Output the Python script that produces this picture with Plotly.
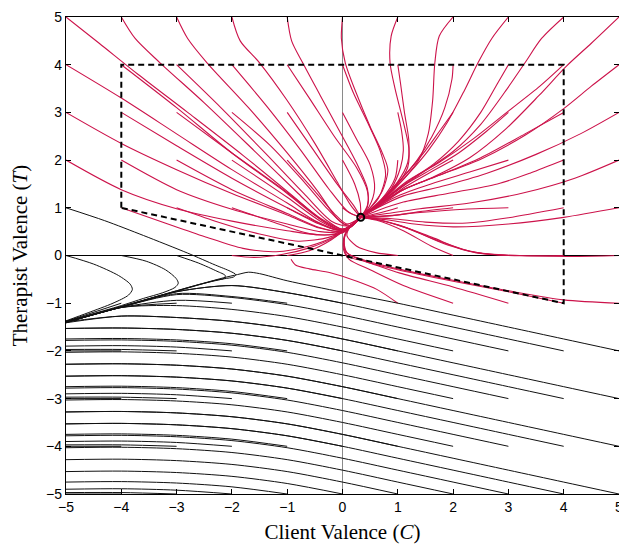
import plotly.graph_objects as go

# ---------------- data ----------------
F = (0.33, 0.80)          # stable fixed point (open circle)
fixed_point_x = [F[0]]
fixed_point_y = [F[1]]

# dashed region: box with the separatrix estimate as its lower edge
box_x = [-4, -4, 4, 4, 0, -4]
box_y = [1, 4, 4, -1, 0, 1]

tick_vals = [-5, -4, -3, -2, -1, 0, 1, 2, 3, 4, 5]

# red trajectories (flow to the fixed point), grouped by starting row T0
red_row_5 = [
    [(-5, 5), (-4.4, 4.45), (-3.7, 3.8), (-2.8, 3.0), (-1.8, 2.1), (-0.9, 1.25), (-0.35, 0.72), (0.0, 0.52), (0.15, 0.6), F],
    [(-4, 5), (-3.75, 4.55), (-3.3, 4.04), (-2.5, 3.2), (-1.6, 2.2), (-0.8, 1.3), (-0.3, 0.75), (0.0, 0.55), (0.15, 0.62), F],
    [(-3, 5), (-2.8, 4.55), (-2.45, 4.04), (-1.7, 3.1), (-1.0, 2.15), (-0.45, 1.35), (-0.1, 0.78), (0.1, 0.62), F],
    [(-2, 5), (-1.85, 4.5), (-1.5, 4.04), (-1.0, 3.25), (-0.5, 2.35), (-0.1, 1.55), (0.15, 1.05), F],
    [(-1, 5), (-0.92, 4.5), (-0.72, 4.04), (-0.4, 3.35), (-0.05, 2.6), (0.25, 1.95), (0.45, 1.4), (0.45, 1.05), F],
    [(0, 5), (-0.02, 4.55), (0.05, 4.04), (0.25, 3.4), (0.5, 2.7), (0.72, 2.15), (0.82, 1.8), (0.72, 1.35), (0.5, 1.0), F],
    [(1, 5), (0.88, 4.6), (0.86, 4.04), (0.95, 3.5), (1.1, 2.8), (1.2, 2.25), (1.18, 1.85), (1.0, 1.5), (0.65, 1.1), F],
    [(2, 5), (1.75, 4.6), (1.67, 4.04), (1.63, 3.25), (1.55, 2.55), (1.38, 2.0), (1.12, 1.62), (0.7, 1.13), F],
    [(3, 5), (2.7, 4.55), (2.45, 4.04), (2.2, 3.45), (1.9, 2.8), (1.55, 2.2), (1.2, 1.72), (0.75, 1.18), F],
    [(4, 5), (3.6, 4.55), (3.3, 4.04), (2.95, 3.45), (2.5, 2.75), (2.0, 2.18), (1.5, 1.78), (1.05, 1.42), (0.65, 1.08), F],
    [(5, 5), (4.5, 4.45), (4.05, 3.97), (3.55, 3.35), (2.95, 2.65), (2.3, 2.05), (1.65, 1.65), (1.05, 1.35), (0.62, 1.04), F],
]
red_row_4 = [
    [(-5, 4), (-4, 3.3), (-3, 2.55), (-2, 1.8), (-1, 1.1), (-0.45, 0.7), (0, 0.52), (0.15, 0.6), F],
    [(-4, 4), (-3, 3.1), (-2, 2.15), (-1, 1.3), (-0.45, 0.8), (-0.05, 0.55), (0.15, 0.62), F],
    [(-3, 4), (-2.2, 3.1), (-1.4, 2.15), (-0.7, 1.3), (-0.2, 0.72), (0.1, 0.62), F],
    [(-2, 4), (-1.35, 3.1), (-0.75, 2.2), (-0.25, 1.4), (0.1, 0.92), F],
    [(-1, 4), (-0.6, 3.3), (-0.15, 2.5), (0.25, 1.85), (0.45, 1.35), (0.45, 1.02), F],
    [(0, 4), (0.2, 3.4), (0.45, 2.8), (0.68, 2.2), (0.78, 1.7), (0.65, 1.2), F],
    [(1, 4), (1.05, 3.6), (1.12, 3.0), (1.2, 2.4), (1.18, 1.95), (1.0, 1.55), (0.65, 1.1), F],
    [(2, 4), (1.98, 3.7), (1.85, 3.1), (1.62, 2.5), (1.35, 2.0), (1.08, 1.62), (0.68, 1.12), F],
    [(3, 4), (2.8, 3.6), (2.5, 3.0), (2.1, 2.4), (1.65, 1.92), (1.15, 1.52), (0.68, 1.1), F],
    [(4, 4), (3.57, 3.55), (2.97, 3.0), (2.37, 2.45), (1.76, 1.96), (1.16, 1.55), (0.68, 1.1), F],
    [(5, 4), (4.5, 3.55), (4, 3.08), (3.3, 2.52), (2.5, 2.02), (1.7, 1.66), (1.1, 1.38), (0.65, 1.05), F],
]
red_row_3 = [
    [(-5, 3), (-4, 2.35), (-3, 1.8), (-2, 1.3), (-1, 0.85), (-0.4, 0.57), (0, 0.5), (0.15, 0.6), F],
    [(-4, 3), (-3, 2.3), (-2, 1.62), (-1, 1.0), (-0.4, 0.65), (0, 0.52), (0.15, 0.6), F],
    [(-3, 3), (-2, 2.15), (-1, 1.32), (-0.4, 0.78), (0, 0.55), (0.15, 0.62), F],
    [(-2, 3), (-1.3, 2.3), (-0.7, 1.55), (-0.25, 0.95), (0.05, 0.65), F],
    [(-1, 3), (-0.55, 2.25), (-0.1, 1.5), (0.2, 1.05), F],
    [(0, 3), (0.25, 2.45), (0.5, 1.9), (0.58, 1.4), (0.48, 1.02), F],
    [(1, 3), (1.07, 2.6), (1.1, 2.2), (1.05, 1.85), (0.88, 1.4), (0.6, 1.05), F],
    [(2, 3), (1.75, 2.6), (1.5, 2.2), (1.2, 1.78), (0.85, 1.35), (0.55, 1.0), F],
    [(3, 3), (2.6, 2.6), (2.1, 2.15), (1.6, 1.8), (1.15, 1.5), (0.7, 1.1), F],
    [(4, 3), (3.3, 2.55), (2.5, 2.05), (1.75, 1.68), (1.1, 1.38), (0.65, 1.02), F],
    [(5, 3), (4.3, 2.55), (3.5, 2.12), (2.6, 1.72), (1.8, 1.45), (1.1, 1.25), (0.6, 0.98), F],
]
red_row_2 = [
    [(-5, 2), (-4, 1.38), (-3, 0.98), (-2, 0.72), (-1, 0.52), (-0.4, 0.43), (0, 0.47), (0.15, 0.6), F],
    [(-4, 2), (-3, 1.38), (-2, 0.97), (-1, 0.66), (-0.4, 0.5), (0, 0.49), (0.15, 0.6), F],
    [(-3, 2), (-2, 1.38), (-1, 0.88), (-0.4, 0.58), (0, 0.5), (0.15, 0.6), F],
    [(-2, 2), (-1, 1.22), (-0.4, 0.72), (0, 0.53), (0.15, 0.62), F],
    [(-1, 2), (-0.5, 1.35), (-0.15, 0.88), (0.08, 0.66), F],
    [(0, 2), (0.22, 1.5), (0.32, 1.1), F],
    [(1, 2), (0.95, 1.62), (0.72, 1.2), F],
    [(2, 2), (1.6, 1.75), (1.15, 1.45), (0.72, 1.1), F],
    [(3, 2), (2.3, 1.75), (1.6, 1.5), (1.0, 1.25), (0.6, 1.0), F],
    [(4, 2), (3.4, 1.73), (2.8, 1.5), (1.9, 1.3), (1.1, 1.12), (0.65, 0.95), F],
    [(5, 2), (4.2, 1.62), (3.3, 1.32), (2.3, 1.1), (1.4, 0.98), (0.8, 0.88), F],
]
red_row_1 = [
    [(-4, 1), (-3.3, 0.72), (-2.5, 0.4), (-1.8, 0.15), (-1.2, 0.08), (-0.6, 0.2), (-0.15, 0.4), (0.1, 0.6), F],
    [(-3, 1), (-2.3, 0.72), (-1.5, 0.45), (-0.8, 0.3), (-0.25, 0.38), (0.05, 0.53), F],
    [(-2, 1), (-1.3, 0.72), (-0.6, 0.46), (-0.15, 0.45), (0.1, 0.58), F],
    [(-1, 1), (-0.5, 0.72), (-0.1, 0.53), (0.12, 0.6), F],
    [(0, 1), (0.15, 0.88), F],
    [(1, 1), (0.7, 0.9), F],
    [(2, 1), (1.4, 0.92), (0.85, 0.83), F],
    [(3, 1), (2.2, 0.97), (1.4, 0.9), (0.8, 0.83), F],
    [(4, 1), (3.0, 0.79), (2.25, 0.68), (1.5, 0.7), (0.9, 0.77), F],
    [(5, 1), (4.0, 0.8), (3.0, 0.66), (2.0, 0.6), (1.3, 0.66), (0.8, 0.75), F],
]
red_row_0 = [
    [(-2, 0), (-1.6, -0.04), (-1.1, 0.02), (-0.6, 0.16), (-0.15, 0.38), (0.1, 0.58), F],
    [(-1, 0), (-0.6, 0.1), (-0.2, 0.33), (0.05, 0.55), F],
    [(1, 0), (0.6, 0.06), (0.25, 0.2), (0.08, 0.42), (0.15, 0.62), F],
    [(2, 0), (1.6, 0.2), (1.1, 0.52), (0.62, 0.74), F],
    [(3, 0), (2.25, 0.1), (1.62, 0.38), (1.02, 0.64), (0.55, 0.77), F],
    [(4, 0), (3.2, 0.0), (2.4, 0.06), (1.75, 0.3), (1.1, 0.6), (0.55, 0.77), F],
    [(5, 0), (4.2, -0.02), (3.4, -0.01), (2.6, 0.03), (1.9, 0.22), (1.2, 0.56), (0.6, 0.76), F],
]
red_row_m1 = [
    [(1, -1), (0.62, -0.71), (0.26, -0.54), (-0.22, -0.36), (-0.6, -0.28), (-0.85, -0.2), (-0.93, -0.08)],
    [(2, -1), (1.1, -0.63), (0.5, -0.3), (0.12, -0.08), (0.02, 0.12), (0.03, 0.4), (0.15, 0.62), F],
    [(3, -1), (2, -0.66), (1.04, -0.37), (0.45, -0.14), (0.08, 0.0), (0.02, 0.3), (0.12, 0.58), F],
    [(4, -1), (3, -0.76), (2, -0.54), (1, -0.3), (0.4, -0.12), (0.06, 0.08), (0.05, 0.45), (0.2, 0.68), F],
    [(5, -1), (4, -0.93), (3, -0.74), (2, -0.52), (1, -0.28), (0.4, -0.1), (0.08, 0.06), (0.02, 0.35)],
]

# black trajectories (run off to the lower left)
black_u_turns = [
    [(-5, 1), (-4.3, 0.73), (-3.6, 0.42), (-2.8, 0.05), (-2.3, -0.2), (-2.03, -0.33), (-1.93, -0.4), (-1.97, -0.45), (-2.15, -0.49), (-2.6, -0.61), (-3, -0.74), (-4, -1.07), (-5, -1.39)],
    [(-3, 0), (-2.6, -0.16), (-2.27, -0.33), (-2.12, -0.42), (-2.14, -0.48), (-2.3, -0.52), (-3, -0.75), (-4, -1.08), (-5, -1.4)],
    [(-4, 0), (-3.55, -0.12), (-3.2, -0.3), (-3.01, -0.48), (-2.97, -0.58), (-3.03, -0.67), (-3.25, -0.78), (-3.6, -0.9), (-4, -1.05), (-5, -1.38)],
    [(-5, 0), (-4.5, -0.18), (-4.05, -0.42), (-3.84, -0.6), (-3.8, -0.71), (-3.87, -0.83), (-4.15, -1.0), (-4.6, -1.2), (-5, -1.37)],
]
black_row_m1 = [
    [(0, -1), (-1, -0.78), (-2, -0.63), (-3, -0.76), (-4, -1.08), (-5, -1.4)],
    [(-1, -1), (-2, -0.86), (-3, -0.8), (-4, -1.08), (-5, -1.4)],
    [(-2, -1), (-3, -0.94), (-4, -1.09), (-5, -1.41)],
    [(-3, -1), (-4, -1.09), (-5, -1.41)],
    [(-4, -1), (-5, -1.38)],
]
black_row_m2 = [
    [(5, -2), (4, -1.75), (3, -1.5), (2, -1.25), (1, -1.0), (0, -0.77), (-1, -0.53), (-1.5, -0.38), (-1.7, -0.35), (-1.9, -0.4), (-2.16, -0.47), (-3, -0.74), (-4, -1.07), (-5, -1.39)],
    [(4, -2), (3, -1.75), (2, -1.5), (1, -1.25), (0, -1.0), (-1, -0.78), (-2, -0.63), (-3, -0.76), (-4, -1.08), (-5, -1.4)],
    [(3, -2), (2, -1.75), (1, -1.5), (0, -1.25), (-1, -1.03), (-2, -0.88), (-3, -0.82), (-4, -1.08), (-5, -1.4)],
    [(2, -2), (1, -1.75), (0, -1.5), (-1, -1.28), (-2, -1.13), (-3, -1.05), (-4, -1.09), (-5, -1.4)],
    [(1, -2), (0, -1.75), (-1, -1.53), (-2, -1.38), (-3, -1.3), (-4, -1.27), (-5, -1.41)],
    [(0, -2), (-1, -1.78), (-2, -1.63), (-3, -1.55), (-4, -1.52), (-5, -1.53)],
    [(-1, -2), (-2, -1.85), (-3, -1.77), (-4, -1.74), (-5, -1.75)],
    [(-2, -2), (-3, -1.92), (-4, -1.89), (-5, -1.9)],
    [(-3, -2), (-4, -1.97), (-5, -1.97)],
    [(-4, -2), (-5, -2.0)],
]
black_row_m3 = [
    [(5, -3), (4, -2.75), (3, -2.5), (2, -2.25), (1, -2.0), (0, -1.75), (-1, -1.53), (-2, -1.38), (-3, -1.3), (-4, -1.27), (-5, -1.39)],
    [(4, -3), (3, -2.75), (2, -2.5), (1, -2.25), (0, -2.0), (-1, -1.78), (-2, -1.63), (-3, -1.55), (-4, -1.52), (-5, -1.53)],
    [(3, -3), (2, -2.75), (1, -2.5), (0, -2.25), (-1, -2.03), (-2, -1.88), (-3, -1.8), (-4, -1.77), (-5, -1.78)],
    [(2, -3), (1, -2.75), (0, -2.5), (-1, -2.28), (-2, -2.13), (-3, -2.05), (-4, -2.02), (-5, -2.03)],
    [(1, -3), (0, -2.75), (-1, -2.53), (-2, -2.38), (-3, -2.3), (-4, -2.27), (-5, -2.28)],
    [(0, -3), (-1, -2.78), (-2, -2.63), (-3, -2.55), (-4, -2.52), (-5, -2.53)],
    [(-1, -3), (-2, -2.85), (-3, -2.77), (-4, -2.74), (-5, -2.75)],
    [(-2, -3), (-3, -2.92), (-4, -2.89), (-5, -2.9)],
    [(-3, -3), (-4, -2.97), (-5, -2.97)],
    [(-4, -3), (-5, -3.0)],
]
black_row_m4 = [
    [(5, -4), (4, -3.75), (3, -3.5), (2, -3.25), (1, -3.0), (0, -2.75), (-1, -2.53), (-2, -2.38), (-3, -2.3), (-4, -2.27), (-5, -2.28)],
    [(4, -4), (3, -3.75), (2, -3.5), (1, -3.25), (0, -3.0), (-1, -2.78), (-2, -2.63), (-3, -2.55), (-4, -2.52), (-5, -2.53)],
    [(3, -4), (2, -3.75), (1, -3.5), (0, -3.25), (-1, -3.03), (-2, -2.88), (-3, -2.8), (-4, -2.77), (-5, -2.78)],
    [(2, -4), (1, -3.75), (0, -3.5), (-1, -3.28), (-2, -3.13), (-3, -3.05), (-4, -3.02), (-5, -3.03)],
    [(1, -4), (0, -3.75), (-1, -3.53), (-2, -3.38), (-3, -3.3), (-4, -3.27), (-5, -3.28)],
    [(0, -4), (-1, -3.78), (-2, -3.63), (-3, -3.55), (-4, -3.52), (-5, -3.53)],
    [(-1, -4), (-2, -3.85), (-3, -3.77), (-4, -3.74), (-5, -3.75)],
    [(-2, -4), (-3, -3.92), (-4, -3.89), (-5, -3.9)],
    [(-3, -4), (-4, -3.97), (-5, -3.97)],
    [(-4, -4), (-5, -4.0)],
]
black_row_m5 = [
    [(5, -5), (4, -4.75), (3, -4.5), (2, -4.25), (1, -4.0), (0, -3.75), (-1, -3.53), (-2, -3.38), (-3, -3.3), (-4, -3.27), (-5, -3.28)],
    [(4, -5), (3, -4.75), (2, -4.5), (1, -4.25), (0, -4.0), (-1, -3.78), (-2, -3.63), (-3, -3.55), (-4, -3.52), (-5, -3.53)],
    [(3, -5), (2, -4.75), (1, -4.5), (0, -4.25), (-1, -4.03), (-2, -3.88), (-3, -3.8), (-4, -3.77), (-5, -3.78)],
    [(2, -5), (1, -4.75), (0, -4.5), (-1, -4.28), (-2, -4.13), (-3, -4.05), (-4, -4.02), (-5, -4.03)],
    [(1, -5), (0, -4.75), (-1, -4.53), (-2, -4.38), (-3, -4.3), (-4, -4.27), (-5, -4.28)],
    [(0, -5), (-1, -4.78), (-2, -4.63), (-3, -4.55), (-4, -4.52), (-5, -4.53)],
    [(-1, -5), (-2, -4.85), (-3, -4.77), (-4, -4.74), (-5, -4.75)],
    [(-2, -5), (-3, -4.92), (-4, -4.89), (-5, -4.9)],
    [(-3, -5), (-4, -4.97), (-5, -4.97)],
    [(-4, -5), (-5, -5.0)],
]

# ---------------- figure ----------------
RED = "rgb(204,18,74)"
BLACK = "#111111"

fig = go.Figure()


def add_paths(paths, color, width):
    for p in paths:
        fig.add_trace(go.Scatter(
            x=[pt[0] for pt in p], y=[pt[1] for pt in p],
            mode="lines", line=dict(color=color, width=width, shape="spline", smoothing=0.8),
            hoverinfo="skip", showlegend=False))


for group in [red_row_5, red_row_4, red_row_3, red_row_2, red_row_1, red_row_0, red_row_m1]:
    add_paths(group, RED, 1.1)
for group in [black_u_turns, black_row_m1, black_row_m2, black_row_m3, black_row_m4, black_row_m5]:
    add_paths(group, BLACK, 1.0)

fig.add_trace(go.Scatter(x=box_x, y=box_y, mode="lines",
                         line=dict(color="black", width=2, dash="6px,4px"),
                         hoverinfo="skip", showlegend=False))
fig.add_trace(go.Scatter(x=fixed_point_x, y=fixed_point_y, mode="markers",
                         marker=dict(symbol="circle-open", size=7, color="black", line=dict(width=2)),
                         hoverinfo="skip", showlegend=False))

axis_common = dict(
    range=[-5, 5], tickvals=tick_vals, ticks="inside", ticklen=5, tickwidth=1, tickcolor="black",
    showline=True, linecolor="black", linewidth=1.3, mirror="ticks", showgrid=False,
    tickfont=dict(family="Liberation Sans, Arial, sans-serif", size=14, color="black"),
    zeroline=True, automargin=False,
)

# the page body keeps its default 8 px margin, so the figure is sized and
# padded to put the plotting area at the reference's pixel position
fig.update_layout(
    width=619, height=536,
    margin=dict(l=58, r=8, t=9, b=50),
    paper_bgcolor="white", plot_bgcolor="white",
    xaxis=dict(**axis_common, zerolinecolor="#8a8a8a", zerolinewidth=1.4,
               title=dict(text="Client Valence (<i>C</i>)", standoff=14,
                          font=dict(family="Liberation Serif, Times New Roman, serif", size=21, color="black"))),
    yaxis=dict(**axis_common, zerolinecolor="black", zerolinewidth=1,
               title=dict(text="Therapist Valence (<i>T</i>)", standoff=12,
                          font=dict(family="Liberation Serif, Times New Roman, serif", size=21, color="black"))),
)

fig.write_html("out.html")
